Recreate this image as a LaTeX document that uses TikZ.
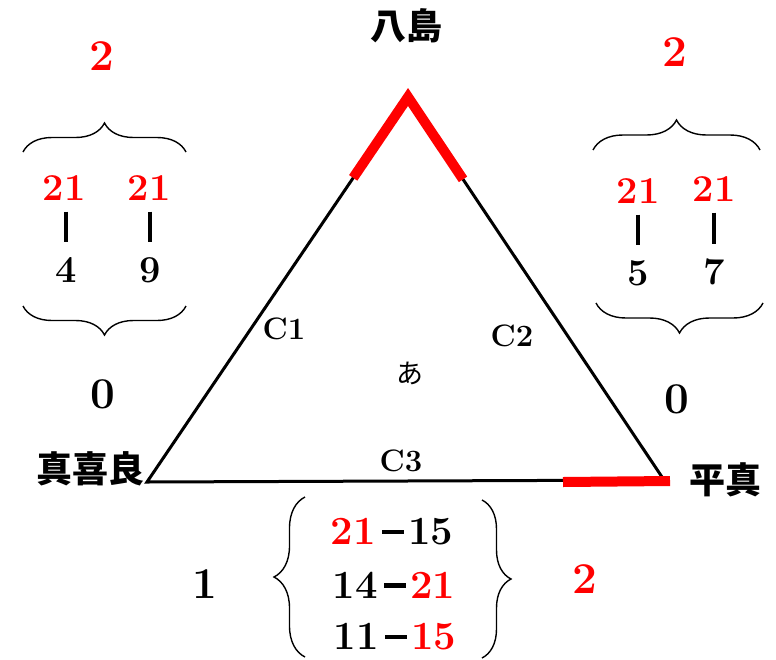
\documentclass[tikz,border=0pt]{standalone}
\usepackage{fontspec}
\newfontfamily\cjk{Noto Sans CJK JP}
\usetikzlibrary{decorations.pathreplacing,calc}
\definecolor{hred}{RGB}{255,0,0}
\newcommand{\thickdash}{\kern6pt\raisebox{10.5pt}{\rule{22pt}{4.5pt}}\kern4pt}
\tikzset{
  num/.style={inner sep=0pt, font=\bfseries\fontsize{38}{40}\selectfont},
  big/.style={inner sep=0pt, font=\bfseries\fontsize{44}{46}\selectfont},
  lab/.style={inner sep=0pt, font=\bfseries\fontsize{31}{33}\selectfont},
  row/.style={inner sep=0pt, font=\bfseries\fontsize{40}{42}\selectfont},
  place/.style={inner sep=0pt, font=\cjk\bfseries\fontsize{36}{38}\selectfont},
  brc/.style={decorate, decoration={brace, amplitude=#1}, line width=1.4pt},
  bar/.style={line width=3.8pt},
  side/.style={line width=3pt, line join=miter},
  redl/.style={line width=10pt, hred},
}
\begin{document}
\begin{tikzpicture}[x=1pt,y=-1pt]
\useasboundingbox (0,0) rectangle (776,659);
% triangle
\coordinate (A) at (408,97);
\coordinate (B) at (147,482);
\coordinate (C) at (664,480);
\draw[side] (A) -- (B) -- (C) -- cycle;
\coordinate (rl) at ($(A)!0.21!(B)$);
\coordinate (rr) at ($(A)!0.215!(C)$);
\draw[redl, line join=miter] (rl) -- (A) -- (rr);
\coordinate (rb1) at (563,482);
\coordinate (rb2) at (670,481);
\draw[redl] (rb1) -- (rb2);
% vertex names
\node[place] (yajima) at (406,26) {八島};
\node[place] (makira) at (90,469) {真喜良};
\node[place] (hirama) at (725,480) {平真};
% side labels
\node[lab] (c1) at (284,329) {C1};
\node[lab] (c2) at (512,336) {C2};
\node[lab] (c3) at (401,461) {C3};
\node[inner sep=0pt, font=\cjk\fontsize{27}{29}\selectfont] (a) at (410,373) {あ};
% scores
\node[big, text=hred] (s1) at (102,56) {2};
\node[big, text=hred] (s2) at (675,52) {2};
\node[big] (s3) at (103,394) {0};
\node[big] (s4) at (677,399) {0};
\node[big] (s5) at (205,584) {1};
\node[big, text=hred] (s6) at (585,579) {2};
% left group
\node[num, text=hred] (la1) at (64,188) {21};
\node[num, text=hred] (la2) at (149,188) {21};
\node[num] (lb1) at (66,270) {4};
\node[num] (lb2) at (150,270) {9};
\draw[bar, shorten <=11pt, shorten >=15pt] (lb1.north |- la1.south) -- (lb1.north);
\draw[bar, shorten <=11pt, shorten >=15pt] (lb2.north |- la2.south) -- (lb2.north);
\draw[brc=29pt] (23,152) -- (186,152);
\draw[brc=29pt] (186,306) -- (23,306);
% right group
\node[num, text=hred] (ra1) at (638,191) {21};
\node[num, text=hred] (ra2) at (714,189) {21};
\node[num] (rb1n) at (638,273) {5};
\node[num] (rb2n) at (714,272) {7};
\draw[bar, shorten <=11pt, shorten >=15pt] (ra1.south) -- (ra1.south |- rb1n.north);
\draw[bar, shorten <=11pt, shorten >=15pt] (ra2.south) -- (ra2.south |- rb2n.north);
\draw[brc=30pt] (593,150) -- (760,150);
\draw[brc=30pt] (763,303) -- (596,303);
% bottom group
\node[row] (g1) at (392,532) {\textcolor{hred}{21}\thickdash 15};
\node[row] (g2) at (394,585) {14\thickdash\textcolor{hred}{21}};
\node[row] (g3) at (395,637) {11\thickdash\textcolor{hred}{15}};
\draw[brc=31pt] (305,657) -- (305,497);
\draw[brc=29pt] (482,500) -- (482,658);
\end{tikzpicture}
\end{document}
